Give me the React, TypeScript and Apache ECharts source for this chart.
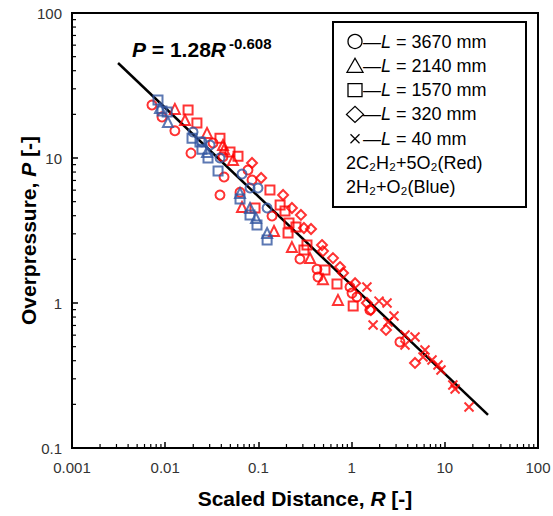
import React, { useEffect, useRef } from "react";
import * as echarts from "echarts";

const FONT = "Arial, 'Liberation Sans', 'DejaVu Sans', sans-serif";
const RED = "#ff0000";
const BLUE = "#3356a0";

// Tick labels
const xTickLabels = ["0.001", "0.01", "0.1", "1", "10", "100"];
const yTickLabels = ["0.1", "1", "10", "100"];
const xDecades = [0.001, 0.01, 0.1, 1, 10];
const yDecades = [0.1, 1, 10];
const minorMultipliers = [2, 3, 4, 5, 6, 7, 8, 9];

// 2C2H2+5O2 (red)
const redCircle: [number, number][] = [
  [0.00721, 23.2], [0.00924, 19.2], [0.0127, 15.4], [0.0189, 10.8], [0.0326, 12.7],
  [0.0417, 10.2], [0.0773, 8.27], [0.0428, 7.4], [0.0387, 5.56], [0.14, 3.98],
  [0.279, 2.01], [0.425, 1.71], [0.436, 1.51], [0.961, 1.29], [1.01, 1.17],
  [1.14, 1.1], [1.57, 0.895], [3.3, 0.538], [0.0635, 5.8], [0.0854, 7.05],
];
const redTriangle: [number, number][] = [
  [0.0127, 21.8], [0.0163, 18.3], [0.0281, 14.9], [0.0428, 11.5], [0.0534, 9.69],
  [0.0417, 12.3], [0.0667, 4.59], [0.147, 3.14], [0.229, 2.43], [0.358, 2.04],
  [0.493, 1.46], [0.714, 1.05],
];
const redSquare: [number, number][] = [
  [0.0176, 21.4], [0.0219, 17.4], [0.0387, 13.7], [0.0496, 11.0], [0.0604, 10.3],
  [0.092, 4.52], [0.133, 6.02], [0.171, 4.74], [0.193, 4.31], [0.213, 3.56],
  [0.253, 3.34], [0.208, 3.04], [0.332, 2.51], [0.308, 2.32], [0.518, 1.69],
  [0.697, 1.35], [1.04, 0.953],
];
const redDiamond: [number, number][] = [
  [0.0854, 9.24], [0.107, 7.28], [0.184, 5.56], [0.229, 4.52], [0.286, 4.05],
  [0.308, 3.29], [0.367, 3.24], [0.481, 2.51], [0.493, 2.28], [0.631, 2.04],
  [0.751, 1.77], [0.809, 1.61], [1.09, 1.37], [1.46, 1.0], [1.61, 0.895],
  [2.34, 0.652], [4.79, 0.386],
];
const redCross: [number, number][] = [
  [1.46, 1.29], [1.97, 1.03], [2.4, 1.0], [2.85, 0.813], [1.7, 0.705],
  [2.46, 0.74], [3.74, 0.602], [4.79, 0.583], [3.74, 0.513], [6.13, 0.474],
  [5.84, 0.424], [7.29, 0.404], [8.45, 0.374], [9.1, 0.345], [12.2, 0.272],
  [12.9, 0.255], [18.2, 0.192],
];

// 2H2+O2 (blue)
const blueCircle: [number, number][] = [
  [0.0199, 15.1], [0.0303, 12.3], [0.0387, 10.0], [0.0667, 7.76], [0.0813, 6.21],
  [0.099, 6.21], [0.124, 4.52], [0.0248, 12.9],
];
const blueTriangle: [number, number][] = [
  [0.00879, 22.1], [0.0107, 17.7], [0.0281, 11.0], [0.0635, 5.74], [0.0813, 4.52],
  [0.0942, 3.86], [0.124, 3.04],
];
const blueSquare: [number, number][] = [
  [0.00837, 25.1], [0.0105, 20.8], [0.00924, 21.1], [0.0194, 13.7], [0.0236, 12.9],
  [0.0248, 11.5], [0.0288, 10.0], [0.0369, 8.13], [0.0635, 5.21], [0.0813, 4.05],
  [0.0966, 3.45], [0.124, 2.72],
];

// Fit line P = 1.28 R^-0.608 (end points as drawn)
const fitLine: [number, number][] = [
  [0.00312, 45.2],
  [29.1, 0.169],
];

const legendRows = [
  "—{i|L} = 3670 mm",
  "—{i|L} = 2140 mm",
  "—{i|L} = 1570 mm",
  "—{i|L} = 320 mm",
  "—{i|L} = 40 mm",
];
const legendNotes = ["2C₂H₂+5O₂(Red)", "2H₂+O₂(Blue)"];

const CROSS = "path://M0,0L10,10M10,0L0,10";

function scatter(data: [number, number][], symbol: string, color: string, size: number) {
  return {
    type: "scatter",
    data,
    symbol,
    symbolSize: size,
    silent: true,
    itemStyle: { color: "rgba(255,255,255,0)", borderColor: color, borderWidth: 2 },
    z: 3,
  };
}

function legendSymbol(i: number, cx: number, cy: number): any {
  const st = { fill: "none", stroke: "#000", lineWidth: 1.3 };
  switch (i) {
    case 0:
      return { type: "circle", shape: { cx, cy, r: 7 }, style: st, z: 11 };
    case 1:
      return {
        type: "polygon",
        shape: { points: [[cx - 8, cy + 6.5], [cx + 8, cy + 6.5], [cx, cy - 7.5]] },
        style: st,
        z: 11,
      };
    case 2:
      return { type: "rect", shape: { x: cx - 7, y: cy - 6.5, width: 14, height: 13 }, style: st, z: 11 };
    case 3:
      return {
        type: "polygon",
        shape: { points: [[cx - 8.5, cy], [cx, cy - 8], [cx + 8.5, cy], [cx, cy + 8]] },
        style: st,
        z: 11,
      };
    default:
      return {
        type: "group",
        z: 11,
        children: [
          { type: "line", shape: { x1: cx - 4.5, y1: cy - 4.5, x2: cx + 4.5, y2: cy + 4.5 }, style: st, z: 11 },
          { type: "line", shape: { x1: cx + 4.5, y1: cy - 4.5, x2: cx - 4.5, y2: cy + 4.5 }, style: st, z: 11 },
        ],
      };
  }
}

export default function App() {
  const ref = useRef<HTMLDivElement>(null);
  useEffect(() => {
    const chart = echarts.init(ref.current!, null, { renderer: "svg" });
    const xMinor: [number, number][] = [];
    xDecades.forEach((d) => minorMultipliers.forEach((m) => xMinor.push([d * m, 0.1])));
    const yMinor: [number, number][] = [];
    yDecades.forEach((d) => minorMultipliers.forEach((m) => yMinor.push([0.001, d * m])));

    const nameStyle = {
      fontSize: 21,
      fontWeight: "bold",
      color: "#000",
      fontFamily: FONT,
      rich: {
        i: { fontSize: 21, fontWeight: "bold", fontStyle: "italic", color: "#000", fontFamily: FONT },
      },
    };

    const rowY = (i: number) => 41.5 + i * 24.3;

    const option: any = {
      animation: false,
      backgroundColor: "#fff",
      grid: {
        left: 72,
        top: 13,
        width: 466,
        height: 435,
        outerBoundsMode: "none",
        containLabel: false,
        show: true,
        borderColor: "#000",
        borderWidth: 2,
        backgroundColor: "rgba(0,0,0,0)",
      },
      xAxis: {
        type: "log",
        logBase: 10,
        min: 0.001,
        max: 100,
        axisLine: { show: true, onZero: false, lineStyle: { color: "#000", width: 2 } },
        axisTick: { show: true, inside: true, length: 6, lineStyle: { color: "#000", width: 1.5 } },
        splitLine: { show: false },
        minorTick: { show: false },
        axisLabel: {
          fontSize: 15,
          color: "#333",
          fontFamily: FONT,
          margin: 12,
          formatter: (v: number) => xTickLabels[Math.round(Math.log10(v)) + 3] ?? "",
        },
        name: "Scaled Distance, {i|R} [-]",
        nameLocation: "middle",
        nameGap: 40,
        nameMoveOverlap: false,
        nameTextStyle: nameStyle,
      },
      yAxis: {
        type: "log",
        logBase: 10,
        min: 0.1,
        max: 100,
        axisLine: { show: true, onZero: false, lineStyle: { color: "#000", width: 2 } },
        axisTick: { show: true, inside: true, length: 6, lineStyle: { color: "#000", width: 1.5 } },
        splitLine: { show: false },
        minorTick: { show: false },
        axisLabel: {
          fontSize: 15,
          color: "#333",
          fontFamily: FONT,
          margin: 10,
          formatter: (v: number) => yTickLabels[Math.round(Math.log10(v)) + 1] ?? "",
        },
        name: "Overpressure, {i|P} [-]",
        nameLocation: "middle",
        nameGap: 33,
        nameMoveOverlap: false,
        nameTextStyle: nameStyle,
      },
      series: [
        {
          type: "custom",
          silent: true,
          clip: false,
          z: 4,
          data: xMinor,
          renderItem: (_p: any, api: any) => {
            const pt = api.coord([api.value(0), api.value(1)]);
            return {
              type: "line",
              shape: { x1: pt[0], y1: pt[1], x2: pt[0], y2: pt[1] - 4 },
              style: { stroke: "#000", lineWidth: 1.2 },
            };
          },
        },
        {
          type: "custom",
          silent: true,
          clip: false,
          z: 4,
          data: yMinor,
          renderItem: (_p: any, api: any) => {
            const pt = api.coord([api.value(0), api.value(1)]);
            return {
              type: "line",
              shape: { x1: pt[0], y1: pt[1], x2: pt[0] + 4, y2: pt[1] },
              style: { stroke: "#000", lineWidth: 1.2 },
            };
          },
        },
        {
          type: "line",
          data: fitLine,
          symbol: "none",
          silent: true,
          lineStyle: { color: "#000", width: 2.5 },
          z: 2,
        },
        scatter(redCircle, "circle", RED, 9),
        scatter(redTriangle, "triangle", RED, 10),
        scatter(redSquare, "rect", RED, 9),
        scatter(redDiamond, "diamond", RED, 10),
        scatter(redCross, CROSS, RED, 9),
        scatter(blueCircle, "circle", BLUE, 9),
        scatter(blueTriangle, "triangle", BLUE, 10),
        scatter(blueSquare, "rect", BLUE, 9),
      ],
      graphic: [
        {
          type: "rect",
          shape: { x: 333, y: 22, width: 193, height: 185 },
          style: { fill: "#fff", stroke: "#000", lineWidth: 2 },
          z: 10,
        },
        ...legendRows.map((_t, i) => legendSymbol(i, 355, rowY(i))),
        ...legendRows.map((t, i) => ({
          type: "text",
          x: 363,
          y: rowY(i),
          z: 11,
          style: {
            text: t,
            fontSize: 18,
            fontFamily: FONT,
            fill: "#000",
            align: "left",
            verticalAlign: "middle",
            rich: {
              i: { fontSize: 18, fontFamily: FONT, fontStyle: "italic", fill: "#000" },
            },
          },
        })),
        ...legendNotes.map((t, i) => ({
          type: "text",
          x: 346,
          y: rowY(i + 5),
          z: 11,
          style: {
            text: t,
            fontSize: 18,
            fontFamily: FONT,
            fill: "#000",
            align: "left",
            verticalAlign: "middle",
          },
        })),
        {
          type: "text",
          x: 132,
          y: 49,
          z: 11,
          style: {
            text: "{i|P} = 1.28{i|R}",
            fontSize: 21,
            fontWeight: "bold",
            fontFamily: FONT,
            fill: "#000",
            align: "left",
            verticalAlign: "middle",
            rich: {
              i: { fontSize: 21, fontWeight: "bold", fontStyle: "italic", fontFamily: FONT, fill: "#000" },
            },
          },
        },
        {
          type: "text",
          x: 229,
          y: 43,
          z: 11,
          style: {
            text: "-0.608",
            fontSize: 15,
            fontWeight: "bold",
            fontFamily: FONT,
            fill: "#000",
            align: "left",
            verticalAlign: "middle",
          },
        },
      ],
    };
    chart.setOption(option);
    return () => chart.dispose();
  }, []);
  return (
    <div
      ref={ref}
      style={{ position: "fixed", left: 0, top: 0, width: 553, height: 516, background: "#fff" }}
    />
  );
}
